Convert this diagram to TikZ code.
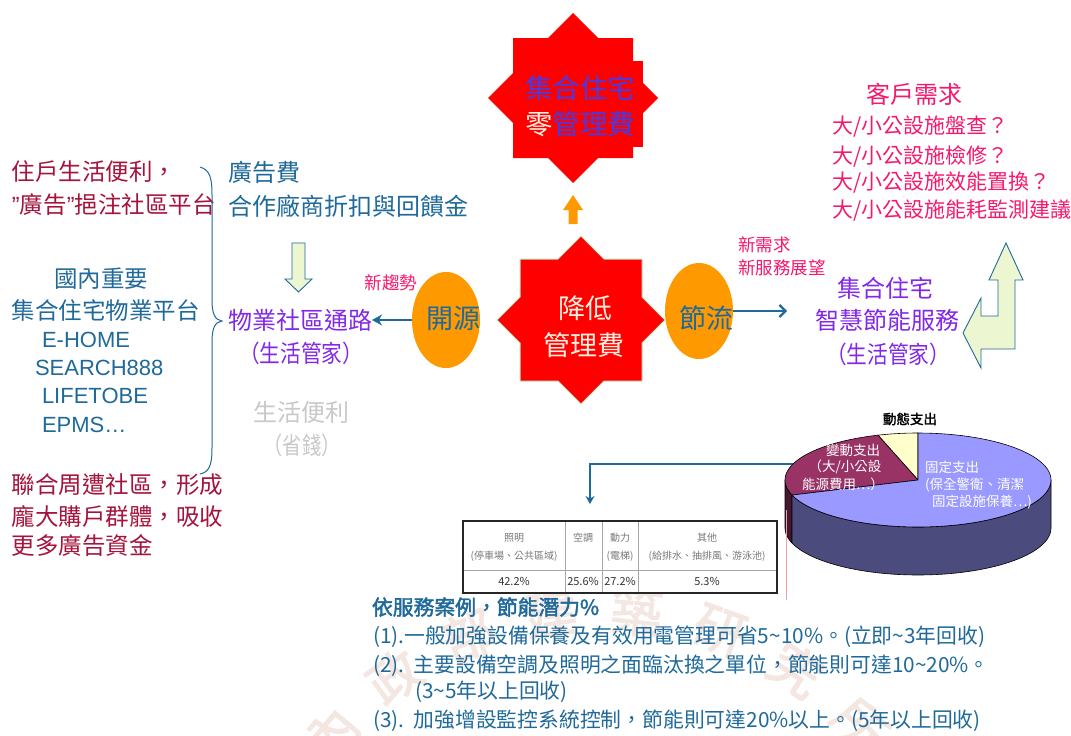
\documentclass[tikz,border=0pt]{standalone}
\usepackage{fontspec}
\usepackage{graphicx}
\setmainfont{Noto Sans CJK TC}
\newfontfamily\cjkb[FakeBold=2]{Noto Sans CJK TC}
\newfontfamily\arialf{Liberation Sans}
\usetikzlibrary{arrows.meta,shapes.geometric}
\newcommand{\fsz}[1]{\fontsize{#1pt}{#1pt}\selectfont}
\definecolor{dred}{RGB}{165,20,60}
\definecolor{tblue}{RGB}{31,106,154}
\definecolor{vio}{RGB}{130,40,230}
\definecolor{pinkc}{RGB}{245,25,110}
\definecolor{orangec}{RGB}{255,153,0}
\definecolor{lgreen}{RGB}{236,246,208}
\definecolor{greyc}{RGB}{200,200,200}
\definecolor{starblue}{RGB}{70,60,230}
\definecolor{creamt}{RGB}{255,240,225}
\definecolor{peri}{RGB}{153,153,255}
\definecolor{maroonc}{RGB}{153,51,102}
\definecolor{pcream}{RGB}{255,255,204}
\definecolor{slate}{RGB}{75,75,125}
\definecolor{dmaroon}{RGB}{70,25,50}
\definecolor{wmark}{RGB}{244,230,225}
\definecolor{starline}{RGB}{190,230,190}
\definecolor{tgrey}{RGB}{120,120,120}
\definecolor{pinkline}{RGB}{240,160,170}
\begin{document}
\begin{tikzpicture}[x=1pt,y=-1pt,
  every node/.style={inner sep=0pt,outer sep=0pt},
  lt/.style={anchor=west},
  redtxt/.style={lt,text=dred,font=\fsz{23.5}},
  bluetxt/.style={text=tblue,font=\fsz{23.5}},
  latin/.style={lt,text=tblue,font=\arialf\fsz{22}},
  viotxt/.style={text=vio,font=\fsz{24}},
  pinktxt/.style={text=pinkc,font=\fsz{21}},
  smallpink/.style={text=pinkc,font=\fsz{17.5}},
  oval/.style={ellipse,fill=orangec,minimum width=68pt,minimum height=96pt},
  blockarrow/.style={fill=lgreen,draw=tblue,line width=0.9pt,line join=miter},
  conn/.style={draw=tblue,line width=2.2pt},
  pietxt/.style={text=white,font=\fsz{13.5}},
  tblh/.style={text=tgrey,font=\fsz{10}},
  tbld/.style={text=black!80,font=\fsz{11}},
  bottxt/.style={lt,text=tblue,font=\fsz{20.8}}]
\useasboundingbox (0,0) rectangle (1071,736);
\fill[white] (0,0) rectangle (1071,736);

% watermark seal
\foreach \c [count=\i] in {內,政,部,建,築,研,究,所}{
  \pgfmathsetmacro\ang{140-(\i-1)*14}
  \node[rotate=\ang-90,text=wmark,font=\cjkb\fsz{52}] (wm\i) at ({600+350*cos(\ang)},{960-350*sin(\ang)}) {\c};
}

% ---------- top star ----------
\fill[red,shift={(573,98)}] (0,-85) -- (25,-60) -- (60,-60) -- (60,-25) -- (85,0) -- (60,25) -- (60,60) -- (25,60) -- (0,85) -- (-25,60) -- (-60,60) -- (-60,25) -- (-85,0) -- (-60,-25) -- (-60,-60) -- (-25,-60) -- cycle;
\fill[red] (632,61) rectangle (643,147);
\node[text=starblue,font=\fsz{27.5}] (top1) at (580,88) {集合住宅};
\node[font=\fsz{27.5}] (top2) at (580,124) {\textcolor{creamt}{零}\textcolor{starblue}{管理費}};
% orange up arrow
\fill[orangec] (573,195) -- (583,210) -- (577.5,210) -- (577.5,224) -- (568.5,224) -- (568.5,210) -- (563,210) -- cycle;

% ---------- central star ----------
\filldraw[fill=red,draw=starline,line width=1pt,shift={(581,320)}] (0,-84) -- (23,-61) -- (61,-61) -- (61,-23) -- (84,0) -- (61,23) -- (61,61) -- (23,61) -- (0,84) -- (-23,61) -- (-61,61) -- (-61,23) -- (-84,0) -- (-61,-23) -- (-61,-61) -- (-23,-61) -- cycle;
\node[text=creamt,font=\fsz{27}] (c1) at (585,308) {降低};
\node[text=creamt,font=\fsz{27}] (c2) at (584,345) {管理費};

% ovals
\node[oval] (ky) at (446,320) {};
\node[text=tblue,font=\fsz{27}] (kyt) at (453,318) {開源};
\node[oval] (jl) at (699,311) {};
\node[text=tblue,font=\fsz{27}] (jlt) at (706,318) {節流};

% ---------- left column ----------
\node[redtxt] (l1) at (12,172) {住戶生活便利，};
\node[redtxt] (l2) at (12,205) {{\arialf ”}廣告{\arialf ”}挹注社區平台};
\node[bluetxt] (l3) at (101,279) {國內重要};
\node[bluetxt,lt] (l4) at (12,311) {集合住宅物業平台};
\node[latin] (l5) at (42,340) {E-HOME};
\node[latin] (l6) at (35,368) {SEARCH888};
\node[latin] (l7) at (42,396) {LIFETOBE};
\node[latin] (l8) at (42,425) {EPMS…};
\node[redtxt] (l9) at (12,485) {聯合周遭社區，形成};
\node[redtxt] (l10) at (12,517) {龐大購戶群體，吸收};
\node[redtxt] (l11) at (12,546) {更多廣告資金};

% brace
\draw[tblue,line width=1pt] (200,167) .. controls (210,170) and (212,178) .. (212,195) -- (212,300) .. controls (212,314) and (215,320) .. (222,321) .. controls (215,322) and (212,328) .. (212,342) -- (212,448) .. controls (212,466) and (209,472) .. (200,474);

% ---------- middle column ----------
\node[bluetxt,lt,font=\fsz{24}] (m1) at (228,172) {廣告費};
\node[bluetxt,lt,font=\fsz{24}] (m2) at (228,206) {合作廠商折扣與回饋金};
\filldraw[blockarrow] (292,243) -- (305,243) -- (305,279) -- (312,279) -- (298.5,292) -- (285,279) -- (292,279) -- cycle;
\node[smallpink] (xq) at (391,283) {新趨勢};
\node[viotxt] (wy1) at (300,320) {物業社區通路};
\node[viotxt] (wy2) at (301,353) {\scalebox{0.86}[1]{（生活管家）}};
\node[text=greyc,font=\fsz{24}] (g1) at (301,412) {生活便利};
\node[text=greyc,font=\fsz{24}] (g2) at (302,445) {\scalebox{0.8}[1]{（省錢）}};
\draw[conn,-{Stealth[length=10pt,width=11pt]}] (ky.west) -- (wy1.east);

% ---------- right column ----------
\node[smallpink,lt] (n1) at (738,245) {新需求};
\node[smallpink,lt] (n2) at (738,268) {新服務展望};
\coordinate (jlend) at (787,311);
\draw[conn,-{Straight Barb[length=6pt,width=12pt]}] (jl.east) -- (jlend);
\node[viotxt] (s1) at (885,288) {集合住宅};
\node[viotxt] (s2) at (887,320) {智慧節能服務};
\node[viotxt] (s3) at (888,354) {\scalebox{0.86}[1]{（生活管家）}};
\filldraw[blockarrow] (1006,243) -- (1023,280) -- (1015,280) -- (1015,349) -- (981,349) -- (981,368) -- (963,333) -- (981,298) -- (981,316) -- (998,316) -- (998,280) -- (989,280) -- cycle;
\node[text=pinkc,font=\fsz{24}] (k0) at (914,94) {客戶需求};
\node[pinktxt,lt] (k1) at (832,127) {大/小公設施盤查？};
\node[pinktxt,lt] (k2) at (832,156) {大/小公設施檢修？};
\node[pinktxt,lt] (k3) at (832,183) {大/小公設施效能置換？};
\node[pinktxt,lt] (k4) at (832,211) {大/小公設施能耗監測建議};

% ---------- connector pie -> table ----------
\coordinate (pieL) at (800,464);
\coordinate (tblin) at (590,504);
\draw[tblue,line width=1.8pt,-{Stealth[length=8pt,width=9pt]}] (pieL) -| (tblin);

% ---------- pie chart ----------
\filldraw[fill=dmaroon,draw=black,line width=0.6pt] plot[domain=180:198.7,samples=8] ({918+133*cos(\x)},{480-47*sin(\x)}) -- plot[domain=198.7:180,samples=8] ({918+133*cos(\x)},{528-47*sin(\x)}) -- cycle;
\filldraw[fill=slate,draw=black,line width=0.6pt] plot[domain=198.7:360,samples=60] ({918+133*cos(\x)},{480-47*sin(\x)}) -- plot[domain=360:198.7,samples=60] ({918+133*cos(\x)},{528-47*sin(\x)}) -- cycle;
\filldraw[fill=pcream,draw=black,line width=0.6pt] (918,480) -- plot[domain=90:107.5,samples=8] ({918+133*cos(\x)},{480-47*sin(\x)}) -- cycle;
\filldraw[fill=maroonc,draw=black,line width=0.6pt] (918,480) -- plot[domain=107.5:198.7,samples=30] ({918+133*cos(\x)},{480-47*sin(\x)}) -- cycle;
\filldraw[fill=peri,draw=black,line width=0.6pt] (918,480) -- plot[domain=198.7:450,samples=80] ({918+133*cos(\x)},{480-47*sin(\x)}) -- cycle;
\node[font=\cjkb\fsz{13.5}] (pt) at (910,419) {動態支出};
\node[pietxt] (v1) at (853,450) {變動支出};
\node[pietxt] (v2) at (845,467) {（大/小公設};
\node[pietxt] (v3) at (843,484) {能源費用…）};
\node[pietxt,lt] (f1) at (925,467) {固定支出};
\node[pietxt,lt] (f2) at (925,485) {(保全警衛、清潔};
\node[pietxt,lt] (f3) at (932,502) {固定設施保養…)};

% ---------- table ----------
\draw[pinkline,line width=0.8pt] (786,510) -- (786,600);
\fill[white] (463,521) rectangle (777,593);
\draw[gray!70,line width=0.6pt] (463,570) -- (777,570) (565,521) -- (565,593) (602,521) -- (602,593) (638,521) -- (638,593);
\draw[black!85,line width=1.6pt] (463,521) rectangle (777,593);
\node[tblh] (t1) at (514,538) {照明};
\node[tblh] (t2) at (514,556) {(停車場、公共區域)};
\node[tblh] (t3) at (583,538) {空調};
\node[tblh] (t4) at (620,538) {動力};
\node[tblh] (t5) at (620,556) {(電梯)};
\node[tblh] (t6) at (707,538) {其他};
\node[tblh] (t7) at (707,556) {(給排水、抽排風、游泳池)};
\node[tbld] (d1) at (514,581) {42.2\%};
\node[tbld] (d2) at (583,581) {25.6\%};
\node[tbld] (d3) at (620,581) {27.2\%};
\node[tbld] (d4) at (707,581) {5.3\%};

% ---------- bottom text ----------
\node[bottxt,font=\cjkb\fsz{20.8}] (b0) at (372,607) {依服務案例，節能潛力\%};
\node[bottxt] (b1) at (373,637) {(1).一般加強設備保養及有效用電管理可省5\textasciitilde10\%。(立即\textasciitilde3年回收)};
\node[bottxt] (b2) at (373,666) {(2).\ \ 主要設備空調及照明之面臨汰換之單位，節能則可達10\textasciitilde20\%。};
\node[bottxt] (b3) at (415,692) {(3\textasciitilde5年以上回收)};
\node[bottxt] (b4) at (373,721) {(3).\ \ 加強增設監控系統控制，節能則可達20\%以上。(5年以上回收)};
\end{tikzpicture}
\end{document}
